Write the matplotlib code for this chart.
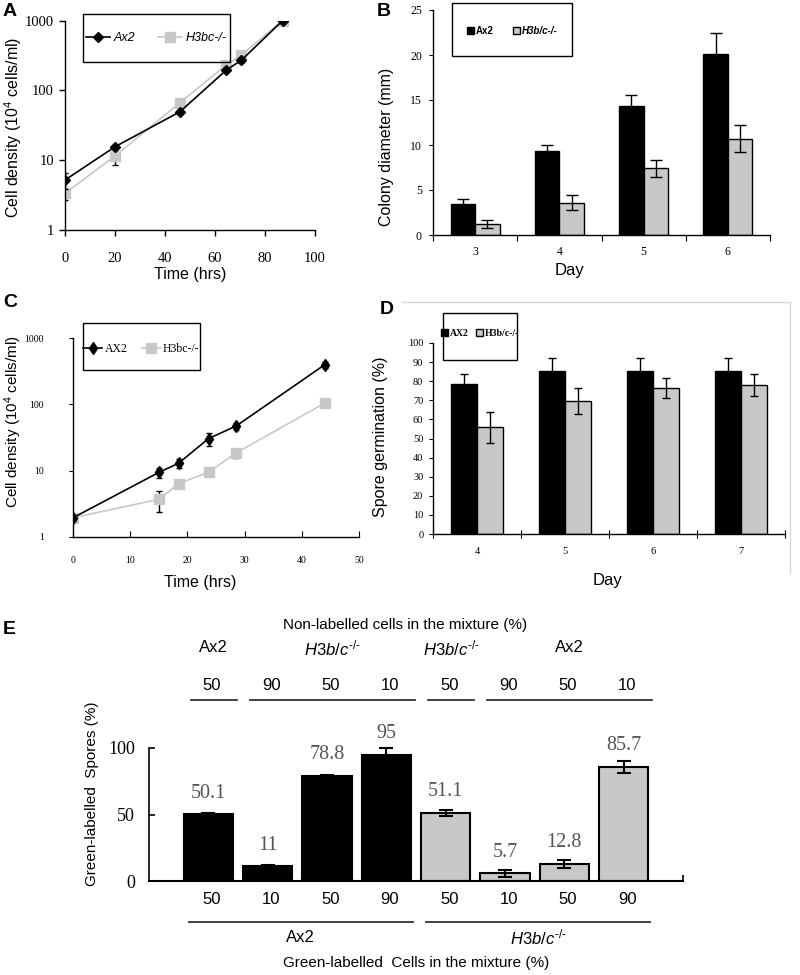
import matplotlib
matplotlib.use('Agg')
import matplotlib.pyplot as plt
import numpy as np
from matplotlib.lines import Line2D
from matplotlib.patches import Rectangle, Patch
from matplotlib import font_manager as fm
import matplotlib.transforms as mtransforms

plt.rcParams['font.family'] = ['Liberation Sans', 'DejaVu Sans']
plt.rcParams['mathtext.fontset'] = 'custom'
plt.rcParams['mathtext.rm'] = 'Liberation Sans'
plt.rcParams['mathtext.it'] = 'Liberation Sans:italic'
plt.rcParams['mathtext.bf'] = 'Liberation Sans:bold'
plt.rcParams['axes.linewidth'] = 1.0

# ---------------- data ----------------
# Panel A: growth curves (10^4 cells/ml)
a_hours_ax2 = [0, 20, 46, 64.5, 70.5, 87]
a_density_ax2 = [5.2, 15.6, 49.6, 196, 270, 1000]
a_err_ax2 = [1.3, 1.0, 3.0, 12, 25, 40]
a_hours_h3 = [0, 20, 46, 64.5, 70.5, 87]
a_density_h3 = [3.36, 11.5, 66.8, 232, 322, 1000]
a_err_h3 = [0.65, 3.0, 4.0, 12, 15, 40]
a_xticks = [0, 20, 40, 60, 80, 100]
a_yticks = [1, 10, 100, 1000]

# Panel B: colony diameter (mm)
b_days = ['3', '4', '5', '6']
b_ax2 = [3.44, 9.37, 14.33, 20.1]
b_ax2_err = [0.6, 0.65, 1.2, 2.3]
b_h3 = [1.22, 3.6, 7.4, 10.67]
b_h3_err = [0.45, 0.8, 0.95, 1.5]
b_yticks = [0, 5, 10, 15, 20, 25]

# Panel C: growth curves
c_hours = [0, 15, 18.5, 23.7, 28.5, 44]
c_ax2 = [1.95, 9.4, 13.0, 30.5, 47, 395]
c_ax2_err = [0.2, 1.6, 2.0, 7.0, 6.0, 40]
c_h3 = [1.95, 3.7, 6.4, 9.5, 18.5, 104]
c_h3_err = [0.2, 1.3, 0.6, 1.0, 3.0, 8]
c_xticks = [0, 10, 20, 30, 40, 50]
c_yticks = [1, 10, 100, 1000]

# Panel D: spore germination (%)
d_days = ['4', '5', '6', '7']
d_ax2 = [78.5, 85.2, 85.5, 85.5]
d_ax2_err = [5.3, 6.8, 6.8, 6.8]
d_h3 = [55.9, 69.6, 76.6, 78.0]
d_h3_err = [8.1, 7.0, 5.2, 6.0]
d_yticks = list(range(0, 101, 10))

# Panel E: chimeras
e_spores = [50.1, 11, 78.8, 95, 51.1, 5.7, 12.8, 85.7]
e_err = [0.8, 1.0, 0.8, 5.0, 2.5, 2.5, 3.0, 4.5]
e_labelled_strain = ['Ax2'] * 4 + ['H3b/c'] * 4
e_green_pct = [50, 10, 50, 90, 50, 10, 50, 90]
e_nonlab_pct = [50, 90, 50, 10, 50, 90, 50, 10]
e_nonlab_groups = [('Ax2', 0, 0), ('H3b/c', 1, 3), ('H3b/c', 4, 4), ('Ax2', 5, 7)]
e_green_groups = [('Ax2', 0, 3), ('H3b/c', 4, 7)]
e_yticks = [0, 50, 100]

GREY = '#c8c8c8'
LGREY = '#c8c8c8'
H3MATH = r'$\mathit{H3b/c}^{\text{-/-}}$'

SERIF = 'Liberation Serif'


def fps(size, weight='normal'):
    return fm.FontProperties(family=SERIF, size=size, weight=weight)


W, H = 800, 975
fig = plt.figure(figsize=(8, 9.75), dpi=100)


def box(l, t, r, b):
    return [l / W, 1 - b / H, (r - l) / W, (b - t) / H]


def fy(py):
    return 1 - py / H


def ftext(px, py, s, **kw):
    fig.text(px / W, fy(py), s, ha=kw.pop('ha', 'center'), va=kw.pop('va', 'center'), **kw)


def legend_box(l, t, r, b):
    fig.add_artist(Rectangle((l / W, fy(b)), (r - l) / W, (b - t) / H,
                             transform=fig.transFigure, fill=False, ec='black', lw=1.0))


def clean(ax):
    ax.spines['top'].set_visible(False)
    ax.spines['right'].set_visible(False)


def serif_ticks(ax, size, which='both'):
    ax.tick_params(axis='both', which=which, labelfontfamily=SERIF, labelsize=size)


# ---------------- Panel A ----------------
axA = fig.add_axes(box(65, 20.7, 315, 230))
clean(axA)
axA.set_yscale('log')
axA.errorbar(a_hours_ax2, a_density_ax2, yerr=a_err_ax2, color='black', marker='D', ms=5,
             lw=1.2, ecolor='black', elinewidth=1, capsize=2, zorder=3)
axA.errorbar(a_hours_h3, a_density_h3, yerr=a_err_h3, color=LGREY, marker='s', ms=6.5,
             lw=1.2, ecolor='black', elinewidth=1, capsize=2, zorder=2)
axA.set_xlim(0, 100)
axA.set_ylim(1, 1000)
axA.yaxis.set_minor_locator(matplotlib.ticker.NullLocator())
axA.set_xticks(a_xticks, [str(v) for v in a_xticks])
axA.set_yticks(a_yticks, [str(v) for v in a_yticks])
axA.tick_params(direction='out', length=4, width=1, pad=4)
axA.tick_params(axis='x', pad=12)
serif_ticks(axA, 10.5)
ftext(13, 127, 'Cell density (10$^{\\mathrm{4}}$ cells/ml)', rotation=90, fontsize=11.5)
ftext(190, 275, 'Time (hrs)', fontsize=11.5)
ftext(10, 12, 'A', fontsize=14, fontweight='bold')
legend_box(83, 14, 230, 62)
hA = [Line2D([], [], color='black', marker='D', ms=5, lw=1.2),
      Line2D([], [], color=LGREY, marker='s', ms=6.5, lw=1.2)]
axA.legend(hA, ['Ax2', 'H3bc-/-'], loc='center', bbox_to_anchor=((83 + 230) / 2 / W, fy(38)),
           bbox_transform=fig.transFigure, frameon=False, ncol=2,
           prop=dict(style='italic', size=9), handlelength=1.9, handletextpad=0.3, columnspacing=1.8)

# ---------------- Panel B ----------------
axB = fig.add_axes(box(433, 10, 770, 235))
clean(axB)
xb = np.arange(len(b_days))
wb = 0.29
axB.bar(xb - wb / 2, b_ax2, wb, color='black', edgecolor='black', lw=1,
        yerr=b_ax2_err, capsize=4.5, error_kw=dict(ecolor='black', elinewidth=1, capthick=1))
axB.bar(xb + wb / 2, b_h3, wb, color=GREY, edgecolor='black', lw=1,
        yerr=b_h3_err, capsize=4.5, error_kw=dict(ecolor='black', elinewidth=1, capthick=1))
axB.set_xlim(-0.5, len(b_days) - 0.5)
axB.set_ylim(0, 25)
axB.set_xticks(np.arange(len(b_days) + 1) - 0.5, [''] * (len(b_days) + 1))
axB.set_xticks(xb, b_days, minor=True)
axB.tick_params(axis='x', which='major', direction='out', length=4)
axB.tick_params(axis='x', which='minor', length=0, pad=8)
axB.set_yticks(b_yticks, [str(v) for v in b_yticks])
axB.tick_params(axis='y', direction='out', length=3, pad=5)
serif_ticks(axB, 8.5)
ftext(387, 147, 'Colony diameter (mm)', rotation=90, fontsize=11.5)
ftext(570, 270, 'Day', fontsize=12)
ftext(384, 11, 'B', fontsize=14, fontweight='bold')
legend_box(452, 3, 572, 56)
hB = [Patch(fc='black', ec='black'), Patch(fc=GREY, ec='black')]
legB = axB.legend(hB, ['Ax2', 'H3b/c-/-'], loc='center', bbox_to_anchor=((452 + 572) / 2 / W, fy(31)),
                  bbox_transform=fig.transFigure, frameon=False, ncol=2,
                  prop=dict(weight='bold', size=7), handlelength=0.7, handleheight=0.7,
                  handletextpad=0.2, columnspacing=2.0)
legB.get_texts()[1].set_style('italic')

# ---------------- Panel C ----------------
axC = fig.add_axes(box(73, 338, 359, 537))
clean(axC)
axC.set_yscale('log')
axC.errorbar(c_hours, c_ax2, yerr=c_ax2_err, color='black', marker='d', ms=6.5,
             lw=1.2, ecolor='black', elinewidth=1, capsize=2, zorder=3)
axC.errorbar(c_hours, c_h3, yerr=c_h3_err, color=LGREY, marker='s', ms=6.5,
             lw=1.2, ecolor='black', elinewidth=1, capsize=2, zorder=2)
axC.set_xlim(0, 50)
axC.set_ylim(1, 1000)
axC.yaxis.set_minor_locator(matplotlib.ticker.NullLocator())
axC.set_xticks(c_xticks, [str(v) for v in c_xticks])
axC.set_yticks(c_yticks, [str(v) for v in c_yticks])
axC.tick_params(axis='x', direction='in', length=4, pad=14)
axC.tick_params(axis='y', direction='out', length=3, pad=18)
serif_ticks(axC, 7)
ftext(13, 422, 'Cell density (10$^{\\mathrm{4}}$ cells/ml)', rotation=90, fontsize=11)
ftext(200, 582, 'Time (hrs)', fontsize=11.5)
ftext(10, 303, 'C', fontsize=14, fontweight='bold')
legend_box(83, 323, 200, 370)
hC = [Line2D([], [], color='black', marker='d', ms=6.5, lw=1.2),
      Line2D([], [], color=LGREY, marker='s', ms=6.5, lw=1.2)]
axC.legend(hC, ['AX2', 'H3bc-/-'], loc='center', bbox_to_anchor=((83 + 200) / 2 / W, fy(349)),
           bbox_transform=fig.transFigure, frameon=False, ncol=2,
           prop=fps(8.5), handlelength=1.6, handletextpad=0.2, columnspacing=1.2)

# ---------------- Panel D ----------------
axD = fig.add_axes(box(433, 343, 785, 534))
clean(axD)
xd = np.arange(len(d_days))
wd = 0.30
axD.bar(xd - wd / 2, d_ax2, wd, color='black', edgecolor='black', lw=1,
        yerr=d_ax2_err, capsize=3, error_kw=dict(ecolor='black', elinewidth=1, capthick=1))
axD.bar(xd + wd / 2, d_h3, wd, color=GREY, edgecolor='black', lw=1,
        yerr=d_h3_err, capsize=3, error_kw=dict(ecolor='black', elinewidth=1, capthick=1))
axD.set_xlim(-0.5, len(d_days) - 0.5)
axD.set_ylim(0, 100)
axD.set_xticks(np.arange(len(d_days) + 1) - 0.5, [''] * (len(d_days) + 1))
axD.set_xticks(xd, d_days, minor=True)
axD.tick_params(axis='x', which='major', direction='inout', length=6)
axD.tick_params(axis='x', which='minor', length=0, pad=9)
axD.set_yticks(d_yticks, [str(v) for v in d_yticks])
axD.tick_params(axis='y', direction='out', length=3, pad=4)
serif_ticks(axD, 7.5)
ftext(381, 437, 'Spore germination (%)', rotation=90, fontsize=11.5)
ftext(607, 580, 'Day', fontsize=12)
ftext(387, 310, 'D', fontsize=14, fontweight='bold')
fig.add_artist(Line2D([402 / W, 790 / W], [fy(302), fy(302)], color='#d8d8d8', lw=1,
                      transform=fig.transFigure))
fig.add_artist(Line2D([790 / W, 790 / W], [fy(302), fy(573)], color='#d8d8d8', lw=1,
                      transform=fig.transFigure))
legend_box(443, 313, 517, 360)
hD = [Patch(fc='black', ec='black'), Patch(fc=GREY, ec='black')]
axD.legend(hD, ['AX2', 'H3b/c-/-'], loc='center', bbox_to_anchor=((443 + 517) / 2 / W, fy(333)),
           bbox_transform=fig.transFigure, frameon=False, ncol=2,
           prop=fps(7, 'bold'), handlelength=0.7, handleheight=0.7, handletextpad=0.2,
           columnspacing=0.8)

# ---------------- Panel E ----------------
axE = fig.add_axes(box(149, 748, 683, 881))
clean(axE)
xe = np.arange(len(e_spores))
e_colors = ['black' if s == 'Ax2' else GREY for s in e_labelled_strain]
axE.bar(xe, e_spores, 0.83, color=e_colors, edgecolor='black', lw=1.5, zorder=2)
axE.errorbar(xe, e_spores, yerr=e_err, fmt='none', ecolor='black', elinewidth=1.5,
             capsize=5, capthick=1.5, clip_on=False, zorder=3)
for xi, v in zip(xe, e_spores):
    axE.text(xi, v + 16, f'{v:g}', ha='center', va='center', color='#555555',
             fontproperties=fps(14.5), clip_on=False)
axE.set_xlim(-1, len(e_spores))
axE.set_ylim(0, 100)
axE.set_xticks([len(e_spores)], [''])
axE.tick_params(axis='x', direction='in', length=4, width=1.2)
axE.set_yticks(e_yticks, [str(v) for v in e_yticks])
axE.tick_params(axis='y', direction='in', length=4, width=1.2, pad=10)
serif_ticks(axE, 13)
axE.spines['left'].set_linewidth(1.2)
axE.spines['bottom'].set_linewidth(1.5)

tE = mtransforms.blended_transform_factory(axE.transData, fig.transFigure)
for xi, p in zip(xe, e_nonlab_pct):
    axE.text(xi + 0.06, fy(686), str(p), transform=tE, ha='center', va='center', fontsize=12)
for xi, p in zip(xe, e_green_pct):
    axE.text(xi + 0.06, fy(899), str(p), transform=tE, ha='center', va='center', fontsize=12)
for name, i0, i1 in e_nonlab_groups:
    x0, x1 = i0 - 0.3, i1 + 0.48
    axE.plot([x0, x1], [fy(700), fy(700)], transform=tE, color='#333333', lw=1.3, clip_on=False)
    lab = 'Ax2' if name == 'Ax2' else H3MATH
    axE.text((x0 + x1) / 2, fy(648), lab, transform=tE, ha='center', va='center', fontsize=12)
for name, i0, i1 in e_green_groups:
    x0, x1 = i0 - 0.33, i1 + 0.45
    axE.plot([x0, x1], [fy(922), fy(922)], transform=tE, color='#333333', lw=1.3, clip_on=False)
    lab = 'Ax2' if name == 'Ax2' else H3MATH
    axE.text((x0 + x1) / 2, fy(937), lab, transform=tE, ha='center', va='center', fontsize=12)

ftext(405, 625, 'Non-labelled cells in the mixture (%)', fontsize=11)
ftext(416, 963, 'Green-labelled  Cells in the mixture (%)', fontsize=11)
ftext(92, 794, 'Green-labelled  Spores (%)', rotation=90, fontsize=11)
ftext(9, 630, 'E', fontsize=14, fontweight='bold')

fig.savefig('out.png', dpi=100)
